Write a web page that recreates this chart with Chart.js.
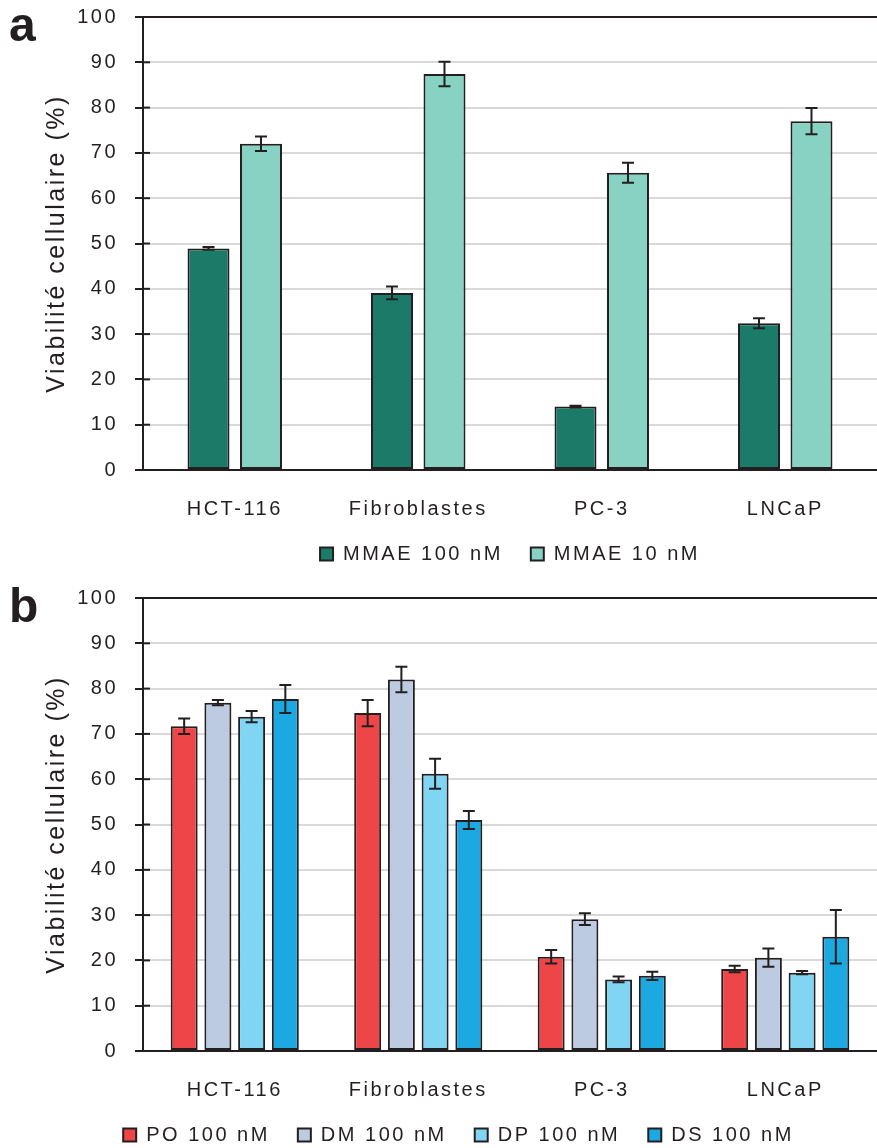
<!DOCTYPE html>
<html>
<head>
<meta charset="utf-8">
<title>Viabilité cellulaire</title>
<script src="https://cdn.jsdelivr.net/npm/chart.js@4.4.1/dist/chart.umd.min.js"></script>
<style>
  body { margin: 0; background: #fff; }
  .wrap { position: relative; width: 877px; height: 1148px; overflow: hidden; }
  canvas { position: absolute; left: 0; }
  #chartA { top: 0; }
  #chartB { top: 574px; }
  .tag { position: absolute; left: 9px; font: bold 48px "Liberation Sans", Arial, sans-serif; line-height: 48px; color: #231f20; }
</style>
</head>
<body>
<div class="wrap">
  <canvas id="chartA" width="877" height="574"></canvas>
  <canvas id="chartB" width="877" height="581"></canvas>
  <div class="tag" style="top:1px">a</div>
  <div class="tag" style="top:582px">b</div>
</div>
<script>
const categories = ['HCT-116', 'Fibroblastes', 'PC-3', 'LNCaP'];

// panel a
const mmae100 = [48.9, 39.1, 14.0, 32.4];
const mmae100Err = [0.3, 1.4, 0.2, 1.1];
const mmae10 = [72.0, 87.4, 65.6, 77.0];
const mmae10Err = [1.6, 2.7, 2.2, 2.9];

// panel b
const po100 = [71.7, 74.6, 20.8, 18.1];
const po100Err = [1.7, 2.9, 1.5, 0.7];
const dm100 = [76.9, 82.0, 29.1, 20.6];
const dm100Err = [0.6, 2.8, 1.3, 2.0];
const dp100 = [73.8, 61.2, 15.8, 17.3];
const dp100Err = [1.25, 3.3, 0.65, 0.35];
const ds100 = [77.7, 51.0, 16.6, 25.2];
const ds100Err = [3.1, 2.0, 0.9, 5.9];

const ink = '#231f20';
Chart.defaults.font.family = '"Liberation Sans", Arial, sans-serif';
Chart.defaults.color = ink;

// Excel-like wide letter spacing
const spacing = {
  id: 'spacing',
  beforeLayout(chart) { chart.ctx.letterSpacing = '2.5px'; },
  beforeDraw(chart) { chart.ctx.letterSpacing = '2.5px'; }
};

const errorBars = {
  id: 'errorBars',
  afterDatasetsDraw(chart, args, opts) {
    const { ctx, scales: { y } } = chart;
    ctx.save();
    ctx.strokeStyle = ink;
    ctx.lineWidth = 2;
    chart.data.datasets.forEach((ds, i) => {
      chart.getDatasetMeta(i).data.forEach((bar, j) => {
        const hi = y.getPixelForValue(ds.data[j] + ds.errors[j]);
        const lo = y.getPixelForValue(ds.data[j] - ds.errors[j]);
        ctx.beginPath();
        ctx.moveTo(bar.x, hi); ctx.lineTo(bar.x, lo);
        ctx.moveTo(bar.x - opts.cap, hi); ctx.lineTo(bar.x + opts.cap, hi);
        ctx.moveTo(bar.x - opts.cap, lo); ctx.lineTo(bar.x + opts.cap, lo);
        ctx.stroke();
      });
    });
    ctx.restore();
  }
};

// tick marks that cross the y axis
const innerTicks = {
  id: 'innerTicks',
  afterDraw(chart) {
    const { ctx, chartArea, scales: { y } } = chart;
    ctx.save();
    ctx.strokeStyle = ink;
    ctx.lineWidth = 2;
    y.ticks.forEach(t => {
      const py = y.getPixelForValue(t.value);
      ctx.beginPath();
      ctx.moveTo(chartArea.left, py);
      ctx.lineTo(chartArea.left + 7, py);
      ctx.stroke();
    });
    ctx.restore();
  }
};

const bar = (label, data, errors, color) => ({
  label, data, errors,
  backgroundColor: color,
  borderColor: ink,
  borderWidth: 2,
  borderSkipped: false
});

function makeChart(id, datasets, o) {
  return new Chart(document.getElementById(id), {
    type: 'bar',
    data: { labels: categories, datasets },
    options: {
      responsive: false,
      animation: false,
      layout: { padding: { top: o.top, left: o.left, right: 0, bottom: 0 } },
      datasets: { bar: { categoryPercentage: o.cat, barPercentage: 0.8 } },
      scales: {
        x: {
          grid: { display: false },
          border: { display: true, color: ink, width: 2 },
          ticks: { padding: 19, font: { size: 20 }, color: ink },
          afterFit: s => { s.height = 46; }
        },
        y: {
          min: 0,
          max: 100,
          ticks: { stepSize: 10, padding: 17, font: { size: 20 }, color: ink },
          grid: {
            color: c => (c.tick && (c.tick.value === 100 || c.tick.value === 0)) ? ink : '#d9d9d9',
            lineWidth: 2,
            tickColor: ink,
            tickLength: 8
          },
          border: { display: true, color: ink, width: 2 },
          title: {
            display: true,
            text: 'Viabilité cellulaire (%)',
            font: { size: 25 },
            color: ink,
            padding: { top: o.titlePad, bottom: 0 }
          },
          afterFit: s => {
            s.width = 143 - o.left;
            s.paddingTop = 12;
            s.paddingBottom = 12;
          }
        }
      },
      plugins: {
        legend: {
          position: 'bottom',
          fullSize: o.legendFull,
          labels: { font: { size: 20 }, color: ink, boxWidth: 13, boxHeight: 13, padding: 28 }
        },
        tooltip: { enabled: false },
        errorBars: { cap: 6 }
      }
    },
    plugins: [spacing, errorBars, innerTicks]
  });
}

makeChart('chartA', [
  bar('MMAE 100 nM', mmae100, mmae100Err, '#1c7a69'),
  bar('MMAE 10 nM', mmae10, mmae10Err, '#88d2c3')
], { top: 17, left: 0, cat: 0.572, titlePad: 42, legendFull: false });

makeChart('chartB', [
  bar('PO 100 nM', po100, po100Err, '#ee4548'),
  bar('DM 100 nM', dm100, dm100Err, '#bdcbe2'),
  bar('DP 100 nM', dp100, dp100Err, '#80d5f3'),
  bar('DS 100 nM', ds100, ds100Err, '#1ca9e1')
], { top: 24, left: 40, cat: 0.735, titlePad: 2, legendFull: true });
</script>
</body>
</html>
